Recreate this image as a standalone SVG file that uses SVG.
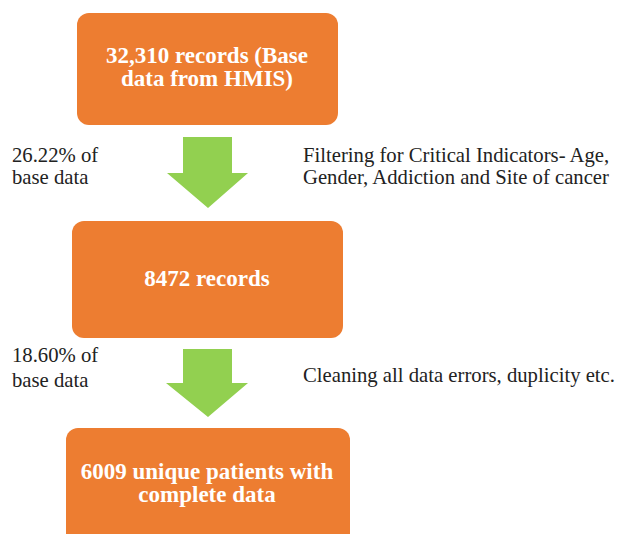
<svg xmlns="http://www.w3.org/2000/svg" width="617" height="534" viewBox="0 0 617 534">
  <style>
    .box { fill: #ED7D31; }
    .arrow { fill: #92D050; }
    .title { font-family: "Liberation Serif", "Times New Roman", serif; font-weight: bold; font-size: 23px; fill: #FFFFFF; text-anchor: middle; }
    .note { font-family: "Liberation Serif", "Times New Roman", serif; font-size: 20.7px; fill: #222222; }
  </style>
  <rect width="617" height="534" fill="#FFFFFF"/>

  <g id="connectors">
    <polygon class="arrow" points="183,137 232,137 232,173 248,173 208,208 167,173 183,173"/>
    <polygon class="arrow" points="183,349 232,349 232,383 248,383 208,417 166,383 183,383"/>
  </g>

  <g id="base-records">
    <rect class="box" x="77" y="13" width="261" height="112" rx="12"/>
    <text class="title" x="207" y="63">32,310 records (Base</text>
    <text class="title" x="207" y="86">data from HMIS)</text>
  </g>

  <g id="filtered-records">
    <rect class="box" x="72" y="221" width="271" height="117" rx="12"/>
    <text class="title" x="207" y="286">8472 records</text>
  </g>

  <g id="unique-patients">
    <rect class="box" x="66" y="428" width="284" height="120" rx="12"/>
    <text class="title" x="207" y="479">6009 unique patients with</text>
    <text class="title" x="207" y="502">complete data</text>
  </g>

  <g id="filter-labels">
    <text class="note" x="12" y="162">26.22% of</text>
    <text class="note" x="12" y="184">base data</text>
    <text class="note" x="303" y="162">Filtering for Critical Indicators- Age,</text>
    <text class="note" x="303" y="184">Gender, Addiction and Site of cancer</text>
  </g>

  <g id="cleaning-labels">
    <text class="note" x="12" y="362">18.60% of</text>
    <text class="note" x="12" y="387">base data</text>
    <text class="note" x="303" y="382">Cleaning all data errors, duplicity etc.</text>
  </g>
</svg>
